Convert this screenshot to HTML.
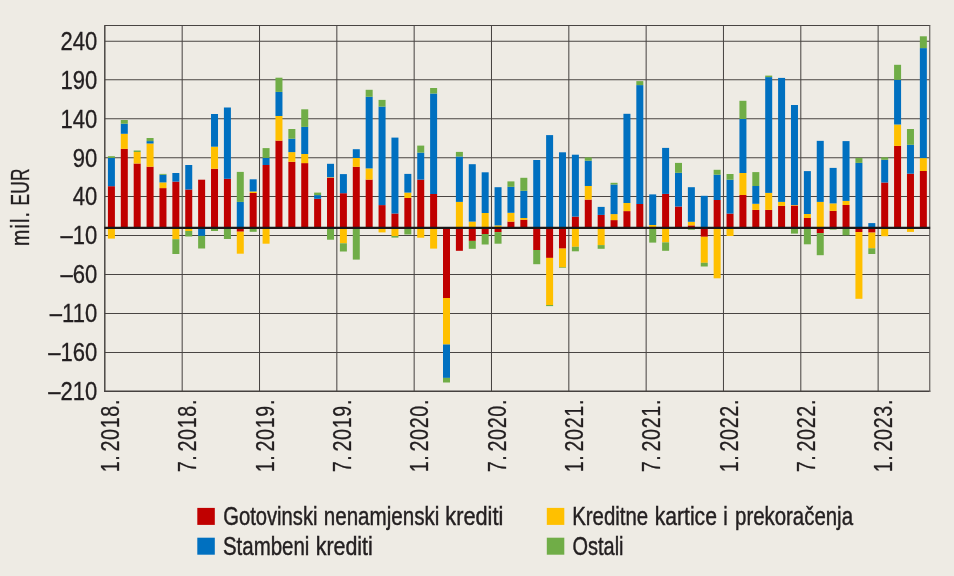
<!DOCTYPE html>
<html><head><meta charset="utf-8"><title>Chart</title>
<style>html,body{margin:0;padding:0;background:#eeebe4;}body{width:954px;height:576px;overflow:hidden;}svg{display:block;}text{font-family:"Liberation Sans",sans-serif;fill:#231f20;stroke:#231f20;stroke-width:0.3px;}</style></head><body>
<svg width="954" height="576" viewBox="0 0 954 576" style="will-change:transform">
<rect x="0" y="0" width="954" height="576" fill="#eeebe4"/>
<g stroke="#484442" stroke-width="1.02" fill="none">
<line x1="104.85" y1="41.25" x2="929.68" y2="41.25"/>
<line x1="104.85" y1="79.75" x2="929.68" y2="79.75"/>
<line x1="104.85" y1="118.70" x2="929.68" y2="118.70"/>
<line x1="104.85" y1="157.75" x2="929.68" y2="157.75"/>
<line x1="104.85" y1="196.60" x2="929.68" y2="196.60"/>
<line x1="104.85" y1="235.55" x2="929.68" y2="235.55"/>
<line x1="104.85" y1="274.45" x2="929.68" y2="274.45"/>
<line x1="104.85" y1="313.45" x2="929.68" y2="313.45"/>
<line x1="104.85" y1="352.45" x2="929.68" y2="352.45"/>
<line x1="182.18" y1="25.60" x2="182.18" y2="391.30"/>
<line x1="259.51" y1="25.60" x2="259.51" y2="391.30"/>
<line x1="336.83" y1="25.60" x2="336.83" y2="391.30"/>
<line x1="414.16" y1="25.60" x2="414.16" y2="391.30"/>
<line x1="491.49" y1="25.60" x2="491.49" y2="391.30"/>
<line x1="568.82" y1="25.60" x2="568.82" y2="391.30"/>
<line x1="646.15" y1="25.60" x2="646.15" y2="391.30"/>
<line x1="723.47" y1="25.60" x2="723.47" y2="391.30"/>
<line x1="800.80" y1="25.60" x2="800.80" y2="391.30"/>
<line x1="878.13" y1="25.60" x2="878.13" y2="391.30"/>
</g>
<line x1="104.25" y1="25.50" x2="930.28" y2="25.50" stroke="#484442" stroke-width="1.2"/>
<line x1="104.80" y1="25.60" x2="104.80" y2="392.00" stroke="#45413f" stroke-width="1.45"/>
<line x1="104.25" y1="391.25" x2="930.28" y2="391.25" stroke="#45413f" stroke-width="1.45"/>
<line x1="929.73" y1="25.60" x2="929.73" y2="392.00" stroke="#6a6663" stroke-width="1.25"/>
<g shape-rendering="auto">
<rect x="107.91" y="186.20" width="7.00" height="41.70" fill="#c00000"/>
<rect x="107.91" y="157.90" width="7.00" height="28.30" fill="#0070c0"/>
<rect x="107.91" y="156.20" width="7.00" height="1.70" fill="#70ad47"/>
<rect x="107.91" y="227.90" width="7.00" height="10.70" fill="#ffc000"/>
<rect x="120.80" y="148.90" width="7.00" height="79.00" fill="#c00000"/>
<rect x="120.80" y="133.80" width="7.00" height="15.10" fill="#ffc000"/>
<rect x="120.80" y="123.70" width="7.00" height="10.10" fill="#0070c0"/>
<rect x="120.80" y="120.00" width="7.00" height="3.70" fill="#70ad47"/>
<rect x="133.69" y="163.50" width="7.00" height="64.40" fill="#c00000"/>
<rect x="133.69" y="152.00" width="7.00" height="11.50" fill="#ffc000"/>
<rect x="133.69" y="150.50" width="7.00" height="1.50" fill="#70ad47"/>
<rect x="146.58" y="166.70" width="7.00" height="61.20" fill="#c00000"/>
<rect x="146.58" y="143.50" width="7.00" height="23.20" fill="#ffc000"/>
<rect x="146.58" y="141.10" width="7.00" height="2.40" fill="#0070c0"/>
<rect x="146.58" y="138.00" width="7.00" height="3.10" fill="#70ad47"/>
<rect x="159.47" y="188.10" width="7.00" height="39.80" fill="#c00000"/>
<rect x="159.47" y="182.40" width="7.00" height="5.70" fill="#ffc000"/>
<rect x="159.47" y="174.80" width="7.00" height="7.60" fill="#0070c0"/>
<rect x="159.47" y="173.90" width="7.00" height="0.90" fill="#70ad47"/>
<rect x="172.35" y="181.60" width="7.00" height="46.30" fill="#c00000"/>
<rect x="172.35" y="173.00" width="7.00" height="8.60" fill="#0070c0"/>
<rect x="172.35" y="227.90" width="7.00" height="11.30" fill="#ffc000"/>
<rect x="172.35" y="239.20" width="7.00" height="14.80" fill="#70ad47"/>
<rect x="185.24" y="189.50" width="7.00" height="38.40" fill="#c00000"/>
<rect x="185.24" y="165.00" width="7.00" height="24.50" fill="#0070c0"/>
<rect x="185.24" y="227.90" width="7.00" height="3.10" fill="#ffc000"/>
<rect x="185.24" y="231.00" width="7.00" height="5.50" fill="#70ad47"/>
<rect x="198.13" y="179.70" width="7.00" height="48.20" fill="#c00000"/>
<rect x="198.13" y="227.90" width="7.00" height="8.00" fill="#0070c0"/>
<rect x="198.13" y="235.90" width="7.00" height="12.60" fill="#70ad47"/>
<rect x="211.02" y="168.80" width="7.00" height="59.10" fill="#c00000"/>
<rect x="211.02" y="146.70" width="7.00" height="22.10" fill="#ffc000"/>
<rect x="211.02" y="114.00" width="7.00" height="32.70" fill="#0070c0"/>
<rect x="211.02" y="227.90" width="7.00" height="3.10" fill="#70ad47"/>
<rect x="223.91" y="178.80" width="7.00" height="49.10" fill="#c00000"/>
<rect x="223.91" y="107.50" width="7.00" height="71.30" fill="#0070c0"/>
<rect x="223.91" y="227.90" width="7.00" height="11.10" fill="#70ad47"/>
<rect x="236.79" y="201.90" width="7.00" height="26.00" fill="#0070c0"/>
<rect x="236.79" y="171.90" width="7.00" height="30.00" fill="#70ad47"/>
<rect x="236.79" y="227.90" width="7.00" height="3.80" fill="#c00000"/>
<rect x="236.79" y="231.70" width="7.00" height="22.00" fill="#ffc000"/>
<rect x="249.68" y="193.00" width="7.00" height="34.90" fill="#c00000"/>
<rect x="249.68" y="191.50" width="7.00" height="1.50" fill="#ffc000"/>
<rect x="249.68" y="179.30" width="7.00" height="12.20" fill="#0070c0"/>
<rect x="249.68" y="227.90" width="7.00" height="3.90" fill="#70ad47"/>
<rect x="262.57" y="165.00" width="7.00" height="62.90" fill="#c00000"/>
<rect x="262.57" y="157.90" width="7.00" height="7.10" fill="#0070c0"/>
<rect x="262.57" y="148.10" width="7.00" height="9.80" fill="#70ad47"/>
<rect x="262.57" y="227.90" width="7.00" height="15.80" fill="#ffc000"/>
<rect x="275.46" y="140.60" width="7.00" height="87.30" fill="#c00000"/>
<rect x="275.46" y="116.00" width="7.00" height="24.60" fill="#ffc000"/>
<rect x="275.46" y="91.90" width="7.00" height="24.10" fill="#0070c0"/>
<rect x="275.46" y="77.70" width="7.00" height="14.20" fill="#70ad47"/>
<rect x="288.35" y="161.80" width="7.00" height="66.10" fill="#c00000"/>
<rect x="288.35" y="152.10" width="7.00" height="9.70" fill="#ffc000"/>
<rect x="288.35" y="138.70" width="7.00" height="13.40" fill="#0070c0"/>
<rect x="288.35" y="129.00" width="7.00" height="9.70" fill="#70ad47"/>
<rect x="301.23" y="163.10" width="7.00" height="64.80" fill="#c00000"/>
<rect x="301.23" y="154.00" width="7.00" height="9.10" fill="#ffc000"/>
<rect x="301.23" y="126.90" width="7.00" height="27.10" fill="#0070c0"/>
<rect x="301.23" y="109.30" width="7.00" height="17.60" fill="#70ad47"/>
<rect x="314.12" y="198.80" width="7.00" height="29.10" fill="#c00000"/>
<rect x="314.12" y="195.10" width="7.00" height="3.70" fill="#0070c0"/>
<rect x="314.12" y="192.60" width="7.00" height="2.50" fill="#70ad47"/>
<rect x="327.01" y="177.70" width="7.00" height="50.20" fill="#c00000"/>
<rect x="327.01" y="177.20" width="7.00" height="0.50" fill="#ffc000"/>
<rect x="327.01" y="163.80" width="7.00" height="13.40" fill="#0070c0"/>
<rect x="327.01" y="227.90" width="7.00" height="11.80" fill="#70ad47"/>
<rect x="339.90" y="193.20" width="7.00" height="34.70" fill="#c00000"/>
<rect x="339.90" y="174.10" width="7.00" height="19.10" fill="#0070c0"/>
<rect x="339.90" y="227.90" width="7.00" height="15.40" fill="#ffc000"/>
<rect x="339.90" y="243.30" width="7.00" height="8.20" fill="#70ad47"/>
<rect x="352.79" y="166.80" width="7.00" height="61.10" fill="#c00000"/>
<rect x="352.79" y="158.00" width="7.00" height="8.80" fill="#ffc000"/>
<rect x="352.79" y="149.20" width="7.00" height="8.80" fill="#0070c0"/>
<rect x="352.79" y="227.90" width="7.00" height="31.70" fill="#70ad47"/>
<rect x="365.67" y="179.60" width="7.00" height="48.30" fill="#c00000"/>
<rect x="365.67" y="168.40" width="7.00" height="11.20" fill="#ffc000"/>
<rect x="365.67" y="96.75" width="7.00" height="71.65" fill="#0070c0"/>
<rect x="365.67" y="89.80" width="7.00" height="6.95" fill="#70ad47"/>
<rect x="378.56" y="205.10" width="7.00" height="22.80" fill="#c00000"/>
<rect x="378.56" y="106.60" width="7.00" height="98.50" fill="#0070c0"/>
<rect x="378.56" y="99.90" width="7.00" height="6.70" fill="#70ad47"/>
<rect x="378.56" y="227.90" width="7.00" height="4.50" fill="#ffc000"/>
<rect x="391.45" y="213.50" width="7.00" height="14.40" fill="#c00000"/>
<rect x="391.45" y="137.60" width="7.00" height="75.90" fill="#0070c0"/>
<rect x="391.45" y="227.90" width="7.00" height="8.10" fill="#ffc000"/>
<rect x="391.45" y="236.00" width="7.00" height="1.60" fill="#70ad47"/>
<rect x="404.34" y="198.00" width="7.00" height="29.90" fill="#c00000"/>
<rect x="404.34" y="192.60" width="7.00" height="5.40" fill="#ffc000"/>
<rect x="404.34" y="173.90" width="7.00" height="18.70" fill="#0070c0"/>
<rect x="404.34" y="227.90" width="7.00" height="6.60" fill="#70ad47"/>
<rect x="417.23" y="179.60" width="7.00" height="48.30" fill="#c00000"/>
<rect x="417.23" y="152.60" width="7.00" height="27.00" fill="#0070c0"/>
<rect x="417.23" y="145.60" width="7.00" height="7.00" fill="#70ad47"/>
<rect x="417.23" y="227.90" width="7.00" height="9.80" fill="#ffc000"/>
<rect x="430.11" y="194.00" width="7.00" height="33.90" fill="#c00000"/>
<rect x="430.11" y="93.50" width="7.00" height="100.50" fill="#0070c0"/>
<rect x="430.11" y="88.00" width="7.00" height="5.50" fill="#70ad47"/>
<rect x="430.11" y="227.90" width="7.00" height="20.70" fill="#ffc000"/>
<rect x="443.00" y="227.90" width="7.00" height="70.10" fill="#c00000"/>
<rect x="443.00" y="298.00" width="7.00" height="46.50" fill="#ffc000"/>
<rect x="443.00" y="344.50" width="7.00" height="33.40" fill="#0070c0"/>
<rect x="443.00" y="377.90" width="7.00" height="4.60" fill="#70ad47"/>
<rect x="455.89" y="201.90" width="7.00" height="26.00" fill="#ffc000"/>
<rect x="455.89" y="156.50" width="7.00" height="45.40" fill="#0070c0"/>
<rect x="455.89" y="151.90" width="7.00" height="4.60" fill="#70ad47"/>
<rect x="455.89" y="227.90" width="7.00" height="22.90" fill="#c00000"/>
<rect x="468.78" y="221.60" width="7.00" height="6.30" fill="#ffc000"/>
<rect x="468.78" y="164.20" width="7.00" height="57.40" fill="#0070c0"/>
<rect x="468.78" y="227.90" width="7.00" height="13.00" fill="#c00000"/>
<rect x="468.78" y="240.90" width="7.00" height="7.90" fill="#70ad47"/>
<rect x="481.67" y="213.00" width="7.00" height="14.90" fill="#ffc000"/>
<rect x="481.67" y="172.30" width="7.00" height="40.70" fill="#0070c0"/>
<rect x="481.67" y="227.90" width="7.00" height="6.10" fill="#c00000"/>
<rect x="481.67" y="234.00" width="7.00" height="10.50" fill="#70ad47"/>
<rect x="494.55" y="225.40" width="7.00" height="2.50" fill="#ffc000"/>
<rect x="494.55" y="187.20" width="7.00" height="38.20" fill="#0070c0"/>
<rect x="494.55" y="227.90" width="7.00" height="4.20" fill="#c00000"/>
<rect x="494.55" y="232.10" width="7.00" height="11.60" fill="#70ad47"/>
<rect x="507.44" y="221.60" width="7.00" height="6.30" fill="#c00000"/>
<rect x="507.44" y="212.80" width="7.00" height="8.80" fill="#ffc000"/>
<rect x="507.44" y="186.80" width="7.00" height="26.00" fill="#0070c0"/>
<rect x="507.44" y="181.40" width="7.00" height="5.40" fill="#70ad47"/>
<rect x="520.33" y="219.70" width="7.00" height="8.20" fill="#c00000"/>
<rect x="520.33" y="218.00" width="7.00" height="1.70" fill="#ffc000"/>
<rect x="520.33" y="190.80" width="7.00" height="27.20" fill="#0070c0"/>
<rect x="520.33" y="177.80" width="7.00" height="13.00" fill="#70ad47"/>
<rect x="533.22" y="160.00" width="7.00" height="67.90" fill="#0070c0"/>
<rect x="533.22" y="227.90" width="7.00" height="22.10" fill="#c00000"/>
<rect x="533.22" y="250.00" width="7.00" height="14.20" fill="#70ad47"/>
<rect x="546.11" y="135.10" width="7.00" height="92.80" fill="#0070c0"/>
<rect x="546.11" y="227.90" width="7.00" height="30.00" fill="#c00000"/>
<rect x="546.11" y="257.90" width="7.00" height="47.10" fill="#ffc000"/>
<rect x="546.11" y="305.00" width="7.00" height="1.10" fill="#70ad47"/>
<rect x="558.99" y="152.30" width="7.00" height="75.60" fill="#0070c0"/>
<rect x="558.99" y="227.90" width="7.00" height="20.70" fill="#c00000"/>
<rect x="558.99" y="248.60" width="7.00" height="18.80" fill="#ffc000"/>
<rect x="558.99" y="267.40" width="7.00" height="0.60" fill="#70ad47"/>
<rect x="571.88" y="216.60" width="7.00" height="11.30" fill="#c00000"/>
<rect x="571.88" y="154.70" width="7.00" height="61.90" fill="#0070c0"/>
<rect x="571.88" y="227.90" width="7.00" height="18.90" fill="#ffc000"/>
<rect x="571.88" y="246.80" width="7.00" height="4.50" fill="#70ad47"/>
<rect x="584.77" y="199.60" width="7.00" height="28.30" fill="#c00000"/>
<rect x="584.77" y="186.00" width="7.00" height="13.60" fill="#ffc000"/>
<rect x="584.77" y="160.70" width="7.00" height="25.30" fill="#0070c0"/>
<rect x="584.77" y="157.40" width="7.00" height="3.30" fill="#70ad47"/>
<rect x="597.66" y="214.90" width="7.00" height="13.00" fill="#c00000"/>
<rect x="597.66" y="206.90" width="7.00" height="8.00" fill="#0070c0"/>
<rect x="597.66" y="227.90" width="7.00" height="17.20" fill="#ffc000"/>
<rect x="597.66" y="245.10" width="7.00" height="3.70" fill="#70ad47"/>
<rect x="610.55" y="220.10" width="7.00" height="7.80" fill="#c00000"/>
<rect x="610.55" y="214.10" width="7.00" height="6.00" fill="#ffc000"/>
<rect x="610.55" y="184.50" width="7.00" height="29.60" fill="#0070c0"/>
<rect x="610.55" y="182.80" width="7.00" height="1.70" fill="#70ad47"/>
<rect x="623.43" y="211.10" width="7.00" height="16.80" fill="#c00000"/>
<rect x="623.43" y="203.00" width="7.00" height="8.10" fill="#ffc000"/>
<rect x="623.43" y="113.80" width="7.00" height="89.20" fill="#0070c0"/>
<rect x="636.32" y="204.00" width="7.00" height="23.90" fill="#c00000"/>
<rect x="636.32" y="85.10" width="7.00" height="118.90" fill="#0070c0"/>
<rect x="636.32" y="81.10" width="7.00" height="4.00" fill="#70ad47"/>
<rect x="649.21" y="225.00" width="7.00" height="2.90" fill="#ffc000"/>
<rect x="649.21" y="194.40" width="7.00" height="30.60" fill="#0070c0"/>
<rect x="649.21" y="227.90" width="7.00" height="14.70" fill="#70ad47"/>
<rect x="662.10" y="193.90" width="7.00" height="34.00" fill="#c00000"/>
<rect x="662.10" y="147.90" width="7.00" height="46.00" fill="#0070c0"/>
<rect x="662.10" y="227.90" width="7.00" height="14.50" fill="#ffc000"/>
<rect x="662.10" y="242.40" width="7.00" height="8.40" fill="#70ad47"/>
<rect x="674.99" y="206.50" width="7.00" height="21.40" fill="#c00000"/>
<rect x="674.99" y="172.80" width="7.00" height="33.70" fill="#0070c0"/>
<rect x="674.99" y="162.90" width="7.00" height="9.90" fill="#70ad47"/>
<rect x="687.87" y="225.40" width="7.00" height="2.50" fill="#c00000"/>
<rect x="687.87" y="221.80" width="7.00" height="3.60" fill="#ffc000"/>
<rect x="687.87" y="187.20" width="7.00" height="34.60" fill="#0070c0"/>
<rect x="687.87" y="227.90" width="7.00" height="1.80" fill="#70ad47"/>
<rect x="700.76" y="195.80" width="7.00" height="32.10" fill="#0070c0"/>
<rect x="700.76" y="227.90" width="7.00" height="8.90" fill="#c00000"/>
<rect x="700.76" y="236.80" width="7.00" height="26.00" fill="#ffc000"/>
<rect x="700.76" y="262.80" width="7.00" height="3.70" fill="#70ad47"/>
<rect x="713.65" y="200.00" width="7.00" height="27.90" fill="#c00000"/>
<rect x="713.65" y="174.70" width="7.00" height="25.30" fill="#0070c0"/>
<rect x="713.65" y="169.80" width="7.00" height="4.90" fill="#70ad47"/>
<rect x="713.65" y="227.90" width="7.00" height="50.40" fill="#ffc000"/>
<rect x="726.54" y="213.60" width="7.00" height="14.30" fill="#c00000"/>
<rect x="726.54" y="179.70" width="7.00" height="33.90" fill="#0070c0"/>
<rect x="726.54" y="174.00" width="7.00" height="5.70" fill="#70ad47"/>
<rect x="726.54" y="227.90" width="7.00" height="8.10" fill="#ffc000"/>
<rect x="739.43" y="195.00" width="7.00" height="32.90" fill="#c00000"/>
<rect x="739.43" y="173.00" width="7.00" height="22.00" fill="#ffc000"/>
<rect x="739.43" y="119.00" width="7.00" height="54.00" fill="#0070c0"/>
<rect x="739.43" y="100.80" width="7.00" height="18.20" fill="#70ad47"/>
<rect x="752.31" y="209.90" width="7.00" height="18.00" fill="#c00000"/>
<rect x="752.31" y="203.80" width="7.00" height="6.10" fill="#ffc000"/>
<rect x="752.31" y="186.00" width="7.00" height="17.80" fill="#0070c0"/>
<rect x="752.31" y="172.10" width="7.00" height="13.90" fill="#70ad47"/>
<rect x="765.20" y="209.90" width="7.00" height="18.00" fill="#c00000"/>
<rect x="765.20" y="192.90" width="7.00" height="17.00" fill="#ffc000"/>
<rect x="765.20" y="77.10" width="7.00" height="115.80" fill="#0070c0"/>
<rect x="765.20" y="75.60" width="7.00" height="1.50" fill="#70ad47"/>
<rect x="778.09" y="205.90" width="7.00" height="22.00" fill="#c00000"/>
<rect x="778.09" y="201.90" width="7.00" height="4.00" fill="#ffc000"/>
<rect x="778.09" y="77.90" width="7.00" height="124.00" fill="#0070c0"/>
<rect x="790.98" y="205.50" width="7.00" height="22.40" fill="#c00000"/>
<rect x="790.98" y="205.00" width="7.00" height="0.50" fill="#ffc000"/>
<rect x="790.98" y="105.00" width="7.00" height="100.00" fill="#0070c0"/>
<rect x="790.98" y="227.90" width="7.00" height="5.70" fill="#70ad47"/>
<rect x="803.87" y="218.00" width="7.00" height="9.90" fill="#c00000"/>
<rect x="803.87" y="214.00" width="7.00" height="4.00" fill="#ffc000"/>
<rect x="803.87" y="171.10" width="7.00" height="42.90" fill="#0070c0"/>
<rect x="803.87" y="227.90" width="7.00" height="16.40" fill="#70ad47"/>
<rect x="816.75" y="201.90" width="7.00" height="26.00" fill="#ffc000"/>
<rect x="816.75" y="140.85" width="7.00" height="61.05" fill="#0070c0"/>
<rect x="816.75" y="227.90" width="7.00" height="5.20" fill="#c00000"/>
<rect x="816.75" y="233.10" width="7.00" height="22.10" fill="#70ad47"/>
<rect x="829.64" y="210.90" width="7.00" height="17.00" fill="#c00000"/>
<rect x="829.64" y="203.40" width="7.00" height="7.50" fill="#ffc000"/>
<rect x="829.64" y="167.90" width="7.00" height="35.50" fill="#0070c0"/>
<rect x="829.64" y="227.90" width="7.00" height="1.70" fill="#70ad47"/>
<rect x="842.53" y="205.00" width="7.00" height="22.90" fill="#c00000"/>
<rect x="842.53" y="200.90" width="7.00" height="4.10" fill="#ffc000"/>
<rect x="842.53" y="141.10" width="7.00" height="59.80" fill="#0070c0"/>
<rect x="842.53" y="227.90" width="7.00" height="7.40" fill="#70ad47"/>
<rect x="855.42" y="162.90" width="7.00" height="65.00" fill="#0070c0"/>
<rect x="855.42" y="157.90" width="7.00" height="5.00" fill="#70ad47"/>
<rect x="855.42" y="227.90" width="7.00" height="4.10" fill="#c00000"/>
<rect x="855.42" y="232.00" width="7.00" height="66.80" fill="#ffc000"/>
<rect x="868.31" y="223.10" width="7.00" height="4.80" fill="#0070c0"/>
<rect x="868.31" y="227.90" width="7.00" height="4.70" fill="#c00000"/>
<rect x="868.31" y="232.60" width="7.00" height="15.70" fill="#ffc000"/>
<rect x="868.31" y="248.30" width="7.00" height="5.70" fill="#70ad47"/>
<rect x="881.19" y="182.50" width="7.00" height="45.40" fill="#c00000"/>
<rect x="881.19" y="159.80" width="7.00" height="22.70" fill="#0070c0"/>
<rect x="881.19" y="157.30" width="7.00" height="2.50" fill="#70ad47"/>
<rect x="881.19" y="227.90" width="7.00" height="8.30" fill="#ffc000"/>
<rect x="894.08" y="145.90" width="7.00" height="82.00" fill="#c00000"/>
<rect x="894.08" y="124.50" width="7.00" height="21.40" fill="#ffc000"/>
<rect x="894.08" y="79.80" width="7.00" height="44.70" fill="#0070c0"/>
<rect x="894.08" y="64.80" width="7.00" height="15.00" fill="#70ad47"/>
<rect x="906.97" y="173.70" width="7.00" height="54.20" fill="#c00000"/>
<rect x="906.97" y="144.80" width="7.00" height="28.90" fill="#0070c0"/>
<rect x="906.97" y="129.00" width="7.00" height="15.80" fill="#70ad47"/>
<rect x="906.97" y="227.90" width="7.00" height="4.00" fill="#ffc000"/>
<rect x="919.86" y="171.00" width="7.00" height="56.90" fill="#c00000"/>
<rect x="919.86" y="158.10" width="7.00" height="12.90" fill="#ffc000"/>
<rect x="919.86" y="48.10" width="7.00" height="110.00" fill="#0070c0"/>
<rect x="919.86" y="36.30" width="7.00" height="11.80" fill="#70ad47"/>
</g>
<line x1="104.35" y1="227.90" x2="930.18" y2="227.90" stroke="#1a1718" stroke-width="2.1"/>
<text transform="translate(97.2,49.86) scale(0.882,1)" font-size="25.00" text-anchor="end">240</text>
<text transform="translate(97.2,88.77) scale(0.882,1)" font-size="25.00" text-anchor="end">190</text>
<text transform="translate(97.2,127.67) scale(0.882,1)" font-size="25.00" text-anchor="end">140</text>
<text transform="translate(97.2,166.57) scale(0.882,1)" font-size="25.00" text-anchor="end">90</text>
<text transform="translate(97.2,205.48) scale(0.882,1)" font-size="25.00" text-anchor="end">40</text>
<text transform="translate(97.2,244.38) scale(0.882,1)" font-size="25.00" text-anchor="end">–10</text>
<text transform="translate(97.2,283.29) scale(0.882,1)" font-size="25.00" text-anchor="end">–60</text>
<text transform="translate(97.2,322.19) scale(0.882,1)" font-size="25.00" text-anchor="end">–110</text>
<text transform="translate(97.2,361.10) scale(0.882,1)" font-size="25.00" text-anchor="end">–160</text>
<text transform="translate(97.2,400.00) scale(0.882,1)" font-size="25.00" text-anchor="end">–210</text>
<text transform="translate(119.10,472.3) rotate(-90) scale(0.765,1)" font-size="25.70" letter-spacing="0.87">1. <tspan dx="-4">2018.</tspan></text>
<text transform="translate(196.43,472.3) rotate(-90) scale(0.765,1)" font-size="25.70" letter-spacing="0.87">7. <tspan dx="-4">2018.</tspan></text>
<text transform="translate(273.76,472.3) rotate(-90) scale(0.765,1)" font-size="25.70" letter-spacing="0.87">1. <tspan dx="-4">2019.</tspan></text>
<text transform="translate(351.08,472.3) rotate(-90) scale(0.765,1)" font-size="25.70" letter-spacing="0.87">7. <tspan dx="-4">2019.</tspan></text>
<text transform="translate(428.41,472.3) rotate(-90) scale(0.765,1)" font-size="25.70" letter-spacing="0.87">1. <tspan dx="-4">2020.</tspan></text>
<text transform="translate(505.74,472.3) rotate(-90) scale(0.765,1)" font-size="25.70" letter-spacing="0.87">7. <tspan dx="-4">2020.</tspan></text>
<text transform="translate(583.07,472.3) rotate(-90) scale(0.765,1)" font-size="25.70" letter-spacing="0.87">1. <tspan dx="-4">2021.</tspan></text>
<text transform="translate(660.40,472.3) rotate(-90) scale(0.765,1)" font-size="25.70" letter-spacing="0.87">7. <tspan dx="-4">2021.</tspan></text>
<text transform="translate(737.72,472.3) rotate(-90) scale(0.765,1)" font-size="25.70" letter-spacing="0.87">1. <tspan dx="-4">2022.</tspan></text>
<text transform="translate(815.05,472.3) rotate(-90) scale(0.765,1)" font-size="25.70" letter-spacing="0.87">7. <tspan dx="-4">2022.</tspan></text>
<text transform="translate(892.38,472.3) rotate(-90) scale(0.765,1)" font-size="25.70" letter-spacing="0.87">1. <tspan dx="-4">2023.</tspan></text>
<text transform="translate(28.6,245.9) rotate(-90) scale(0.764,1)" font-size="25.7" letter-spacing="1.4">mil.</text>
<text transform="translate(28.6,205.4) rotate(-90) scale(0.675,1)" font-size="25.7" letter-spacing="0.3">EUR</text>
<rect x="197.30" y="507.90" width="17.5" height="17" fill="#c00000"/>
<rect x="197.30" y="537.70" width="17.5" height="17" fill="#0070c0"/>
<rect x="546.80" y="507.90" width="17.5" height="17" fill="#ffc000"/>
<rect x="546.80" y="537.70" width="17.5" height="17" fill="#70ad47"/>
<text transform="translate(223.23,524.80) scale(0.8076,1)" font-size="25.00" style="stroke-width:0.45px">Gotovinski</text>
<text transform="translate(323.72,524.80) scale(0.8246,1)" font-size="25.00" style="stroke-width:0.45px">nenamjenski</text>
<text transform="translate(445.36,524.80) scale(0.8684,1)" font-size="25.00" style="stroke-width:0.45px">krediti</text>
<text transform="translate(222.97,554.60) scale(0.8184,1)" font-size="25.00" style="stroke-width:0.45px">Stambeni</text>
<text transform="translate(315.71,554.60) scale(0.8561,1)" font-size="25.00" style="stroke-width:0.45px">krediti</text>
<text transform="translate(572.22,524.80) scale(0.8158,1)" font-size="25.00" style="stroke-width:0.45px">Kreditne</text>
<text transform="translate(654.74,524.80) scale(0.8439,1)" font-size="25.00" style="stroke-width:0.45px">kartice</text>
<text transform="translate(723.37,524.80) scale(0.8100,1)" font-size="25.00" style="stroke-width:0.45px">i</text>
<text transform="translate(735.03,524.80) scale(0.8166,1)" font-size="25.00" style="stroke-width:0.45px">prekoračenja</text>
<text transform="translate(572.54,554.60) scale(0.7982,1)" font-size="25.00" style="stroke-width:0.45px">Ostali</text>
</svg></body></html>
